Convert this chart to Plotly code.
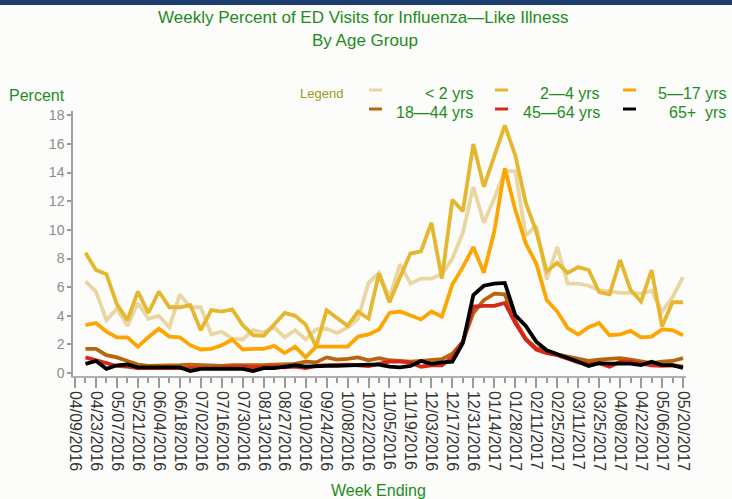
import pandas as pd
import plotly.graph_objects as go

# ---- data ----
week_start = "2016-04-16"
n_weeks = 58
weeks = pd.date_range(week_start, periods=n_weeks, freq="7D")

age_groups = ["< 2 yrs", "2—4 yrs", "5—17 yrs", "18—44 yrs", "45—64 yrs", "65+  yrs"]

lt2 = [6.4, 5.7, 3.7, 4.5, 3.3, 4.9, 3.8, 4.0, 3.2, 5.5,
       4.6, 4.6, 2.7, 2.9, 2.4, 2.35, 3.0, 2.85, 3.2, 2.5,
       3.0, 2.35, 3.05, 3.1, 2.8, 3.2, 3.8, 6.3, 7.0, 5.25,
       7.6, 6.25, 6.6, 6.6, 6.9, 8.0, 9.8, 13.0, 10.5, 12.2,
       14.1, 14.1, 9.6, 10.3, 6.55, 8.8, 6.25, 6.25, 6.1, 5.8,
       5.7, 5.6, 5.6, 5.55, 5.75, 4.3, 5.3, 6.7]
y2_4 = [8.4, 7.2, 6.9, 4.8, 3.7, 5.7, 4.2, 5.7, 4.6, 4.6,
        4.75, 3.0, 4.4, 4.3, 4.45, 3.35, 2.65, 2.6, 3.4, 4.2,
        4.0, 3.4, 1.85, 4.4, 3.85, 3.3, 4.3, 3.8, 6.95, 4.95,
        6.7, 8.35, 8.5, 10.5, 6.6, 12.1, 11.3, 16.0, 13.0, 15.2,
        17.3, 15.2, 11.9, 9.9, 7.1, 7.7, 7.0, 7.4, 7.2, 5.65,
        5.5, 7.9, 5.8, 5.0, 7.2, 3.25, 4.95, 4.95]
y5_17 = [3.35, 3.5, 2.9, 2.5, 2.5, 1.85, 2.5, 3.1, 2.55, 2.5,
         1.95, 1.65, 1.7, 1.95, 2.35, 1.65, 1.7, 1.7, 1.9, 1.4,
         1.85, 1.1, 1.85, 1.85, 1.9, 1.85, 2.55, 2.7, 3.05, 4.2,
         4.3, 4.05, 3.75, 4.3, 3.95, 6.2, 7.4, 8.8, 7.0, 9.9,
         14.3, 11.4, 9.05, 7.65, 5.1, 4.3, 3.15, 2.7, 3.2, 3.5,
         2.65, 2.7, 2.95, 2.5, 2.55, 3.05, 3.0, 2.65]
y18_44 = [1.7, 1.7, 1.25, 1.1, 0.85, 0.6, 0.5, 0.5, 0.5, 0.55,
          0.6, 0.55, 0.5, 0.5, 0.55, 0.55, 0.5, 0.55, 0.6, 0.6,
          0.65, 0.8, 0.75, 1.1, 0.95, 1.0, 1.1, 0.9, 1.05, 0.9,
          0.85, 0.8, 0.85, 0.9, 0.97, 1.35, 2.2, 4.2, 5.1, 5.55,
          5.5, 3.65, 2.4, 1.75, 1.5, 1.3, 1.15, 1.0, 0.85, 0.95,
          1.0, 1.05, 0.95, 0.8, 0.7, 0.8, 0.85, 1.05]
y45_64 = [1.1, 0.9, 0.7, 0.5, 0.45, 0.35, 0.35, 0.35, 0.35, 0.35,
          0.3, 0.3, 0.35, 0.4, 0.45, 0.45, 0.4, 0.45, 0.45, 0.4,
          0.45, 0.35, 0.5, 0.55, 0.6, 0.6, 0.55, 0.5, 0.65, 0.8,
          0.8, 0.75, 0.45, 0.55, 0.55, 1.1, 2.2, 4.65, 4.7, 4.7,
          4.9, 3.5, 2.35, 1.65, 1.4, 1.25, 1.0, 0.75, 0.63, 0.7,
          0.45, 0.8, 0.8, 0.67, 0.55, 0.5, 0.55, 0.45]
y65p = [0.65, 0.85, 0.3, 0.55, 0.6, 0.4, 0.4, 0.4, 0.35, 0.4,
        0.15, 0.3, 0.3, 0.3, 0.3, 0.3, 0.15, 0.35, 0.35, 0.45,
        0.55, 0.45, 0.5, 0.5, 0.5, 0.55, 0.6, 0.6, 0.6, 0.45,
        0.4, 0.5, 0.85, 0.65, 0.75, 0.8, 2.1, 5.45, 6.1, 6.25,
        6.3, 4.05, 3.3, 2.2, 1.6, 1.35, 1.1, 0.8, 0.5, 0.7,
        0.67, 0.67, 0.67, 0.56, 0.8, 0.56, 0.56, 0.37]

series = [lt2, y2_4, y5_17, y18_44, y45_64, y65p]
colors = ["#E9D6A2", "#E5B72E", "#FFA500", "#B8660E", "#D5281C", "#000000"]

GREEN = "#1E8C1E"
FONT = "Liberation Sans, Arial, sans-serif"

fig = go.Figure()
for name, vals, col in zip(age_groups, series, colors):
    fig.add_trace(go.Scatter(x=weeks, y=vals, mode="lines", name=name,
                             line=dict(color=col, width=3.8), showlegend=False,
                             hoverinfo="skip"))

# plot area geometry (px) for placing overlay text
L, R, T, B = 73, 46, 111, 123
W, H = 732, 499
pw, ph = W - L - R, H - T - B
def px(x):
    return (x - L) / pw
def py(y):
    return (H - B - y) / ph

ann = []
ann.append(dict(x=px(363), y=py(17), text="Weekly Percent of ED Visits for Influenza—Like Illness",
                font=dict(size=17, color=GREEN)))
ann.append(dict(x=px(365), y=py(40), text="By Age Group", font=dict(size=17, color=GREEN)))
ann.append(dict(x=px(37), y=py(95), text="Percent", font=dict(size=16, color=GREEN)))
ann.append(dict(x=px(378), y=py(490), text="Week Ending", font=dict(size=16, color=GREEN)))
ann.append(dict(x=px(321), y=py(93), text="Legend", font=dict(size=13, color="#9A9A22")))

# manual legend: (swatch-left-px, text-right-px, row-y-px)
leg_pos = [(369, 475, 93), (495, 602, 93), (623, 728, 93),
           (369, 475, 112), (495, 602, 112), (623, 728, 112)]
shapes = []
for (sx, tx, ry), name, col in zip(leg_pos, age_groups, colors):
    ann.append(dict(x=px(tx), y=py(ry), text=name, xanchor="right",
                    font=dict(size=16, color=GREEN)))
    shapes.append(dict(type="line", xref="paper", yref="paper",
                       x0=px(sx), x1=px(sx + 13), y0=py(ry - 3), y1=py(ry - 3),
                       line=dict(color=col, width=3)))
for a in ann:
    a.update(xref="paper", yref="paper", showarrow=False)
    a.setdefault("xanchor", "center")
    a.setdefault("yanchor", "middle")

# navy top bar
shapes.append(dict(type="rect", xref="paper", yref="paper", x0=px(0), x1=px(W),
                   y0=py(5), y1=py(0), fillcolor="#1D3E6E", line=dict(width=0)))

fig.update_layout(
    width=W, height=H,
    margin=dict(l=L, r=R, t=T, b=B),
    paper_bgcolor="#FCFCFA", plot_bgcolor="#FCFCFA",
    font=dict(family=FONT),
    annotations=ann, shapes=shapes,
    xaxis=dict(type="date", range=["2016-04-07 16:00", "2017-05-22"],
               tick0="2016-04-09", dtick=14 * 86400000, tickformat="%m/%d/%Y",
               tickangle=90, ticks="outside", ticklen=10, tickwidth=2, tickcolor="#9A9A9A",
               tickfont=dict(size=16, color="#333333"),
               minor=dict(tick0="2016-04-09", dtick=7 * 86400000, ticks="outside",
                          ticklen=5, tickwidth=2, tickcolor="#9A9A9A", showgrid=False),
               showline=True, linecolor="#B0B0B0", linewidth=1.5,
               showgrid=False, zeroline=False),
    yaxis=dict(range=[-0.2, 18.3], tick0=0, dtick=2, ticks="outside", ticklen=4,
               tickwidth=1.5, tickcolor="#9A9A9A", tickfont=dict(size=14, color="#8C8C8C"),
               showline=True, linecolor="#A0A0A0", linewidth=1.5,
               showgrid=False, zeroline=False),
)

fig.write_html("out.html", config={"displayModeBar": False},
               post_script="document.body.style.margin='0';document.body.style.background='#FCFCFA';")
